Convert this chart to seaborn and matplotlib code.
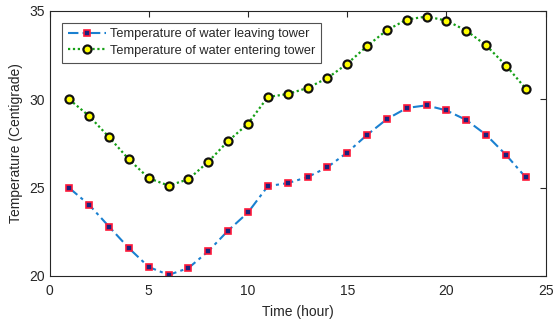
import numpy as np
import pandas as pd
import matplotlib
matplotlib.use("Agg")
import matplotlib.pyplot as plt
import seaborn as sns

hours = list(range(1, 25))
leaving = [24.97, 24.02, 22.79, 21.57, 20.51, 20.06, 20.45, 21.40, 22.57, 23.59,
           25.08, 25.25, 25.59, 26.15, 26.98, 27.98, 28.87, 29.50, 29.65, 29.36,
           28.82, 27.98, 26.85, 25.57]
entering = [29.98, 29.04, 27.85, 26.59, 25.53, 25.11, 25.47, 26.46, 27.63, 28.61,
            30.12, 30.29, 30.63, 31.19, 32.00, 33.00, 33.90, 34.50, 34.67, 34.44,
            33.87, 33.04, 31.90, 30.59]
label_leaving = "Temperature of water leaving tower"
label_entering = "Temperature of water entering tower"
x_ticks = [0, 5, 10, 15, 20, 25]
y_ticks = [20, 25, 30, 35]

df = pd.DataFrame({"hour": hours, "leaving": leaving, "entering": entering})

sns.set_style("white")
plt.rcParams["font.family"] = ["Liberation Sans", "DejaVu Sans"]

fig = plt.figure(figsize=(5.54, 3.25), dpi=100)
ax = fig.add_axes([0.0894, 0.1508, 0.8956, 0.8163])

sns.lineplot(data=df, x="hour", y="leaving", ax=ax, color="#1a80d0",
             linewidth=1.5, marker="s",
             markersize=4, markerfacecolor="#1a237e", markeredgecolor="#ff1a3a",
             markeredgewidth=1.2, label=label_leaving)
sns.lineplot(data=df, x="hour", y="entering", ax=ax, color="#16a016",
             linewidth=1.6, marker="o",
             markersize=5.8, markerfacecolor="#ffff00", markeredgecolor="#111111",
             markeredgewidth=1.6, label=label_entering)

# MATLAB-like line styles: dash-dot for leaving, dotted for entering
ax.lines[0].set_linestyle((0, (5, 2, 1.5, 2)))
ax.lines[1].set_linestyle((0, (1, 1.2)))

ax.set_xlim(0, 25)
ax.set_ylim(20, 35)
ax.set_xticks(x_ticks)
ax.set_yticks(y_ticks)
ax.set_xlabel("Time (hour)", fontsize=10, color="#262626", labelpad=5)
ax.set_ylabel("Temperature (Centigrade)", fontsize=10, color="#262626", labelpad=4)
ax.tick_params(axis="x", pad=6)
ax.tick_params(direction="in", length=4, width=0.8, top=True, right=True,
               labelsize=10, colors="#262626")
for s in ax.spines.values():
    s.set_color("#262626")
    s.set_linewidth(0.8)

leg = ax.legend(loc="upper left", bbox_to_anchor=(0.025, 0.955), fontsize=9.2,
                frameon=True, fancybox=False, edgecolor="#262626",
                handlelength=3.0, handletextpad=0.3, borderpad=0.45,
                labelspacing=0.35, borderaxespad=0)
leg.get_frame().set_linewidth(0.8)
leg.legend_handles[0].set_linestyle((0, (5, 2, 1.5, 2)))
leg.legend_handles[1].set_linestyle((0, (1, 1.2)))

fig.savefig("out.png", dpi=100)
